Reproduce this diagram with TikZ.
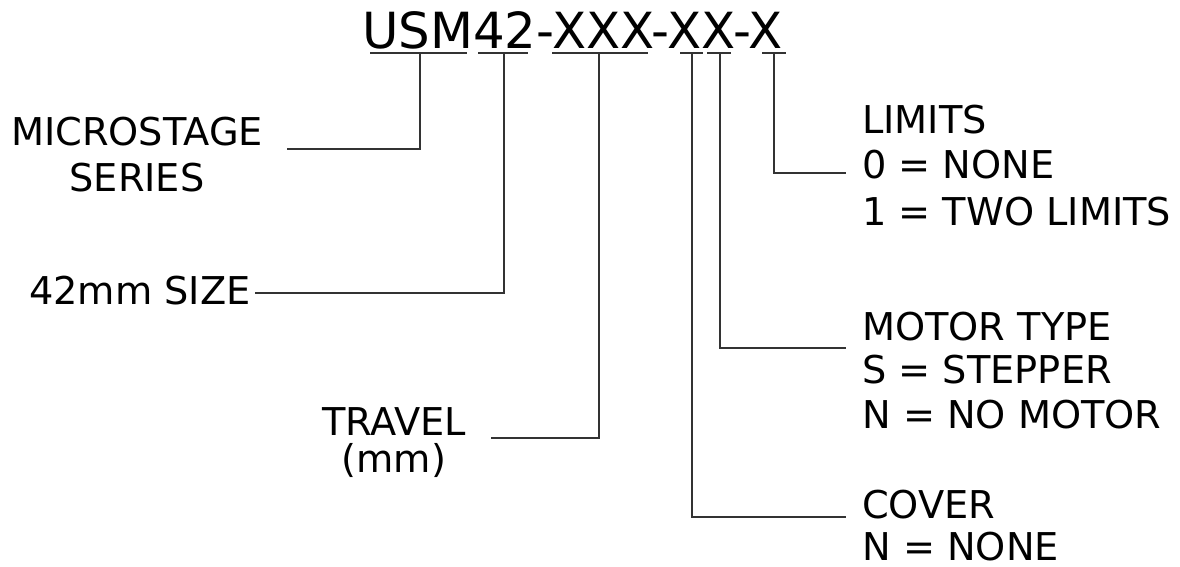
\documentclass[tikz,border=0pt]{standalone}
\usepackage{fontspec}
\setmainfont{DejaVu Sans}
\begin{document}
\begin{tikzpicture}[x=1pt,y=-1pt,
  lbl/.style={inner sep=0pt, font=\fontsize{38.3}{45}\selectfont},
  ttl/.style={inner sep=0pt, font=\fontsize{49.8}{56}\selectfont},
  ln/.style={draw=black!80, line width=1.4pt}]
\useasboundingbox (0,0) rectangle (1180,567);
% title
\node[ttl, anchor=base west] (title) at (362,49) {USM42-XXX-XX-X};
% underlines
\draw[ln] (370,53) -- (467,53);
\draw[ln] (478,53) -- (528,53);
\draw[ln] (552,53) -- (648,53);
\draw[ln] (680,53) -- (703,53);
\draw[ln] (707,53) -- (731,53);
\draw[ln] (762,53) -- (786,53);
% tick coordinates
\coordinate (t1) at (420,53);
\coordinate (t2) at (504,53);
\coordinate (t3) at (599,53);
\coordinate (t4) at (692,53);
\coordinate (t5) at (720,53);
\coordinate (t6) at (774,53);
% leader ends
\coordinate (e1) at (287,149);
\coordinate (e2) at (255,293);
\coordinate (e3) at (491,438);
\coordinate (e4) at (846,517);
\coordinate (e5) at (846,348);
\coordinate (e6) at (846,173);
% labels
\node[lbl, anchor=base] (ms1) at (137,146) {MICROSTAGE};
\node[lbl, anchor=base] (ms2) at (137,191) {SERIES};
\node[lbl, anchor=base west] (sz) at (29,304) {42mm SIZE};
\node[lbl, anchor=base] (tr1) at (394,435) {TRAVEL};
\node[lbl, anchor=base] (tr2) at (394,472) {(mm)};
\node[lbl, anchor=base west] (li1) at (862,133) {LIMITS};
\node[lbl, anchor=base west] (li2) at (862,178) {0 = NONE};
\node[lbl, anchor=base west] (li3) at (862,225) {1 = TWO LIMITS};
\node[lbl, anchor=base west] (mo1) at (862,340) {MOTOR TYPE};
\node[lbl, anchor=base west] (mo2) at (862,383) {S = STEPPER};
\node[lbl, anchor=base west] (mo3) at (862,428) {N = NO MOTOR};
\node[lbl, anchor=base west] (co1) at (862,518) {COVER};
\node[lbl, anchor=base west] (co2) at (862,560) {N = NONE};
% leaders
\draw[ln] (t1) |- (e1);
\draw[ln] (t2) |- (e2);
\draw[ln] (t3) |- (e3);
\draw[ln] (t4) |- (e4);
\draw[ln] (t5) |- (e5);
\draw[ln] (t6) |- (e6);
\end{tikzpicture}
\end{document}
